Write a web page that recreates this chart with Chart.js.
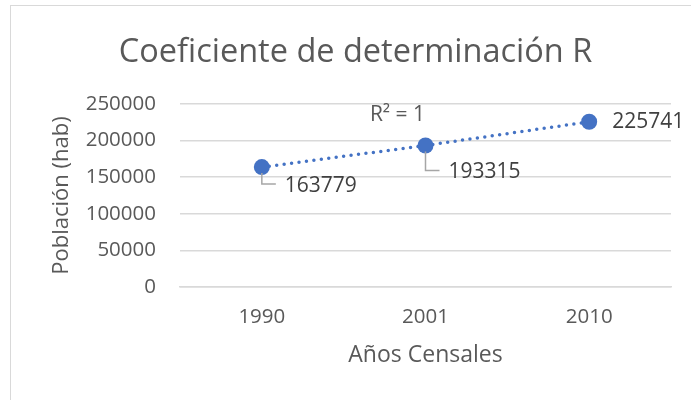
<!DOCTYPE html>
<html>
<head>
<meta charset="utf-8">
<script src="https://cdn.jsdelivr.net/npm/chart.js@4.4.0/dist/chart.umd.min.js"></script>
<style>
  html, body { margin: 0; padding: 0; background: #fff; }
</style>
</head>
<body>
<canvas id="chart" width="691" height="400"></canvas>
<script>
// datos del gráfico
const years = ["1990", "2001", "2010"];
const poblacion = [163779, 193315, 225741];
const yTicks = [0, 50000, 100000, 150000, 200000, 250000];
const r2Text = "R² = 1";

const FONT = "'Open Sans', sans-serif";
const BLUE = "#4472C4";

// marco, etiquetas de datos y R²
const decor = {
  id: "decor",
  beforeDraw(chart) {
    const ctx = chart.ctx;
    ctx.save();
    ctx.strokeStyle = "#d9d9d9";
    ctx.lineWidth = 1;
    ctx.strokeRect(10.5, 5.5, 720, 440);
    ctx.restore();
  },
  afterDatasetsDraw(chart) {
    const ctx = chart.ctx;
    const meta = chart.getDatasetMeta(0);
    // desplazamientos de las etiquetas respecto al punto
    const offs = [
      { dx: 23, dy: 19, leader: true },
      { dx: 23, dy: 27, leader: true },
      { dx: 23, dy: 0, leader: false }
    ];
    ctx.save();
    ctx.font = "21px " + FONT;
    ctx.textBaseline = "middle";
    ctx.textAlign = "left";
    meta.data.forEach((pt, i) => {
      const o = offs[i];
      if (o.leader) {
        ctx.strokeStyle = "#a6a6a6";
        ctx.lineWidth = 1.5;
        ctx.beginPath();
        ctx.moveTo(pt.x, pt.y + 6);
        ctx.lineTo(pt.x, pt.y + o.dy - 2);
        ctx.lineTo(pt.x + o.dx - 9, pt.y + o.dy - 2);
        ctx.stroke();
      }
      ctx.fillStyle = "#404040";
      ctx.fillText(String(poblacion[i]), pt.x + o.dx, pt.y + o.dy);
    });
    // R² de la línea de tendencia
    const p = meta.data[1];
    ctx.fillStyle = "#595959";
    ctx.textAlign = "center";
    ctx.fillText(r2Text, p.x - 28, p.y - 30);
    ctx.restore();
  }
};

new Chart(document.getElementById("chart"), {
  type: "line",
  data: {
    labels: years,
    datasets: [{
      data: poblacion,
      borderColor: BLUE,
      backgroundColor: BLUE,
      borderWidth: 3.5,
      borderDash: [0, 7.5],
      borderCapStyle: "round",
      pointRadius: 8,
      pointBorderWidth: 0,
      pointBackgroundColor: BLUE,
      tension: 0
    }]
  },
  options: {
    responsive: false,
    animation: false,
    layout: { padding: { left: 20, right: 0, top: 0, bottom: 0 } },
    plugins: {
      legend: { display: false },
      tooltip: { enabled: false },
      title: {
        display: true,
        text: "Coeficiente de determinación R",
        color: "#595959",
        font: { family: FONT, size: 32.5, weight: "normal", lineHeight: 1.2 },
        padding: { top: 33, bottom: 32 }
      }
    },
    scales: {
      x: {
        offset: true,
        grid: { display: false, drawTicks: false },
        border: { display: true, color: "#d9d9d9", width: 1.5 },
        ticks: { color: "#595959", padding: 18, font: { family: FONT, size: 20.5 } },
        title: {
          display: true,
          text: "Años Censales",
          color: "#595959",
          font: { family: FONT, size: 23, lineHeight: 1.2 },
          padding: { top: 0, bottom: 31 }
        },
        afterFit(scale) { scale.height = 113; }
      },
      y: {
        min: 0,
        max: 250000,
        afterBuildTicks(scale) { scale.ticks = yTicks.map(v => ({ value: v })); },
        grid: { color: "#d9d9d9", lineWidth: 1.5, drawTicks: false },
        border: { display: false },
        ticks: {
          color: "#595959",
          padding: 24,
          font: { family: FONT, size: 20.5 },
          callback: v => String(v)
        },
        title: {
          display: true,
          text: "Población (hab)",
          color: "#595959",
          font: { family: FONT, size: 22, lineHeight: 1.2 },
          padding: { top: 29, bottom: 0 }
        },
        afterFit(scale) { scale.width = 160; }
      },
      // margen derecho vacío
      yR: {
        position: "right",
        display: true,
        grid: { display: false, drawTicks: false },
        border: { display: false },
        ticks: { display: false },
        afterFit(scale) { scale.width = 20; }
      }
    }
  },
  plugins: [decor]
});
</script>
</body>
</html>
